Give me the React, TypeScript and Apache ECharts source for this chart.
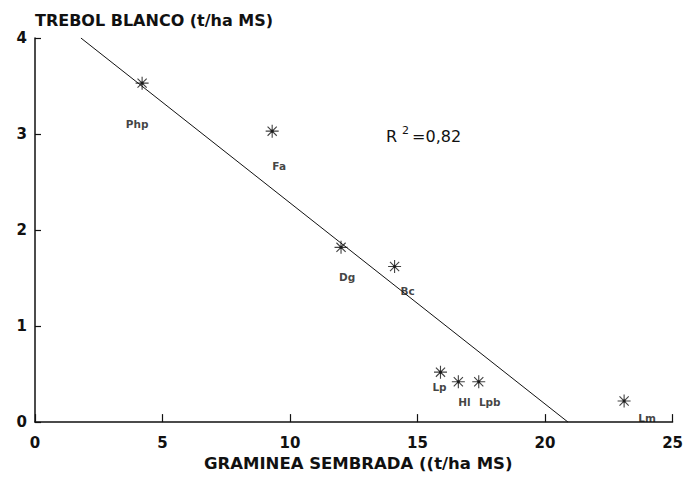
import React, { useEffect, useRef } from "react";
import * as echarts from "echarts";

// Forage species (grass sown with white clover)
const species = ["Php", "Fa", "Dg", "Bc", "Lp", "Hl", "Lpb", "Lm"];
// Sown grass yield, t/ha DM
const grassYield = [4.2, 9.3, 12.0, 14.1, 15.9, 16.6, 17.4, 23.1];
// White clover yield, t/ha DM
const cloverYield = [3.53, 3.03, 1.82, 1.62, 0.52, 0.42, 0.42, 0.22];
// Fitted regression line end points [grass, clover]
const fitLine = [
  [1.8, 4.0],
  [20.9, 0.0],
];
const rSquared = "0,82";
const xTicks = [0, 5, 10, 15, 20, 25];
const yTicks = [0, 1, 2, 3, 4];

// Label placement (px offset from each marker)
const labelOffsets: Record<string, [number, number]> = {
  Php: [-5, 41],
  Fa: [7, 35],
  Dg: [6, 30],
  Bc: [13, 24],
  Lp: [-1, 15],
  Hl: [6, 20],
  Lpb: [11, 20],
  Lm: [23, 17],
};

const ASTERISK =
  "path://M6,0 L6,12 M0,6 L12,6 M1.76,1.76 L10.24,10.24 M1.76,10.24 L10.24,1.76";

const FONT = "'DejaVu Sans', 'Liberation Sans', Arial, sans-serif";

export default function App() {
  const ref = useRef<HTMLDivElement>(null);

  useEffect(() => {
    if (!ref.current) return;
    const chart = echarts.init(ref.current, null, { renderer: "svg" });

    const points = species.map((name, i) => ({
      name,
      value: [grassYield[i], cloverYield[i]],
      label: { offset: labelOffsets[name] },
    }));

    chart.setOption({
      animation: false,
      backgroundColor: "#ffffff",
      grid: { left: 35, right: 12, top: 38, bottom: 48 },
      xAxis: {
        type: "value",
        min: xTicks[0],
        max: xTicks[xTicks.length - 1],
        interval: 5,
        name: "GRAMINEA SEMBRADA ((t/ha MS)",
        nameLocation: "middle",
        nameGap: 26,
        nameTextStyle: {
          color: "#111",
          fontFamily: FONT,
          fontWeight: "bold",
          fontSize: 16.5,
          padding: [0, 0, 0, 9],
        },
        axisLine: { show: true, lineStyle: { color: "#111", width: 1.5 } },
        axisTick: { show: true, inside: true, length: 8, lineStyle: { color: "#111", width: 1.2 } },
        axisLabel: {
          color: "#111",
          fontFamily: FONT,
          fontWeight: "bold",
          fontSize: 15,
          margin: 13,
        },
        splitLine: { show: false },
      },
      yAxis: {
        type: "value",
        min: yTicks[0],
        max: yTicks[yTicks.length - 1],
        interval: 1,
        name: "TREBOL BLANCO (t/ha MS)",
        nameLocation: "end",
        nameGap: 10,
        nameTextStyle: {
          color: "#111",
          fontFamily: FONT,
          fontWeight: "bold",
          fontSize: 16,
          align: "left",
        },
        axisLine: { show: true, lineStyle: { color: "#111", width: 1.5 } },
        axisTick: { show: true, inside: true, length: 6, lineStyle: { color: "#111", width: 1.2 } },
        axisLabel: {
          color: "#111",
          fontFamily: FONT,
          fontWeight: "bold",
          fontSize: 15,
          margin: 8,
        },
        splitLine: { show: false },
      },
      series: [
        {
          type: "line",
          data: fitLine,
          symbol: "none",
          lineStyle: { color: "#111", width: 1 },
          z: 2,
        },
        {
          type: "scatter",
          data: points,
          symbol: ASTERISK,
          symbolSize: 13,
          itemStyle: { color: "none", borderColor: "#111", borderWidth: 1.1 },
          label: {
            show: true,
            position: "inside",
            formatter: "{b}",
            color: "#111",
            fontFamily: FONT,
            fontWeight: "bold",
            fontSize: 10.5,
          },
          z: 3,
        },
        {
          type: "scatter",
          data: points.map((p) => ({ value: p.value })),
          symbol: "circle",
          symbolSize: 3,
          itemStyle: { color: "#111" },
          silent: true,
          z: 4,
        },
      ],
      graphic: [
        {
          type: "text",
          left: 386,
          top: 125,
          style: {
            text: "{r|R}{s|2}{r|=" + rSquared + "}",
            rich: {
              r: { fontFamily: FONT, fontSize: 16, fill: "#111", verticalAlign: "bottom" },
              s: { fontFamily: FONT, fontSize: 11, fill: "#111", verticalAlign: "top", padding: [0, 3, 8, 5] },
            },
          },
        },
      ],
    });

    return () => chart.dispose();
  }, []);

  return (
    <div
      ref={ref}
      style={{ position: "fixed", left: 0, top: 0, width: 686, height: 477 }}
    />
  );
}
